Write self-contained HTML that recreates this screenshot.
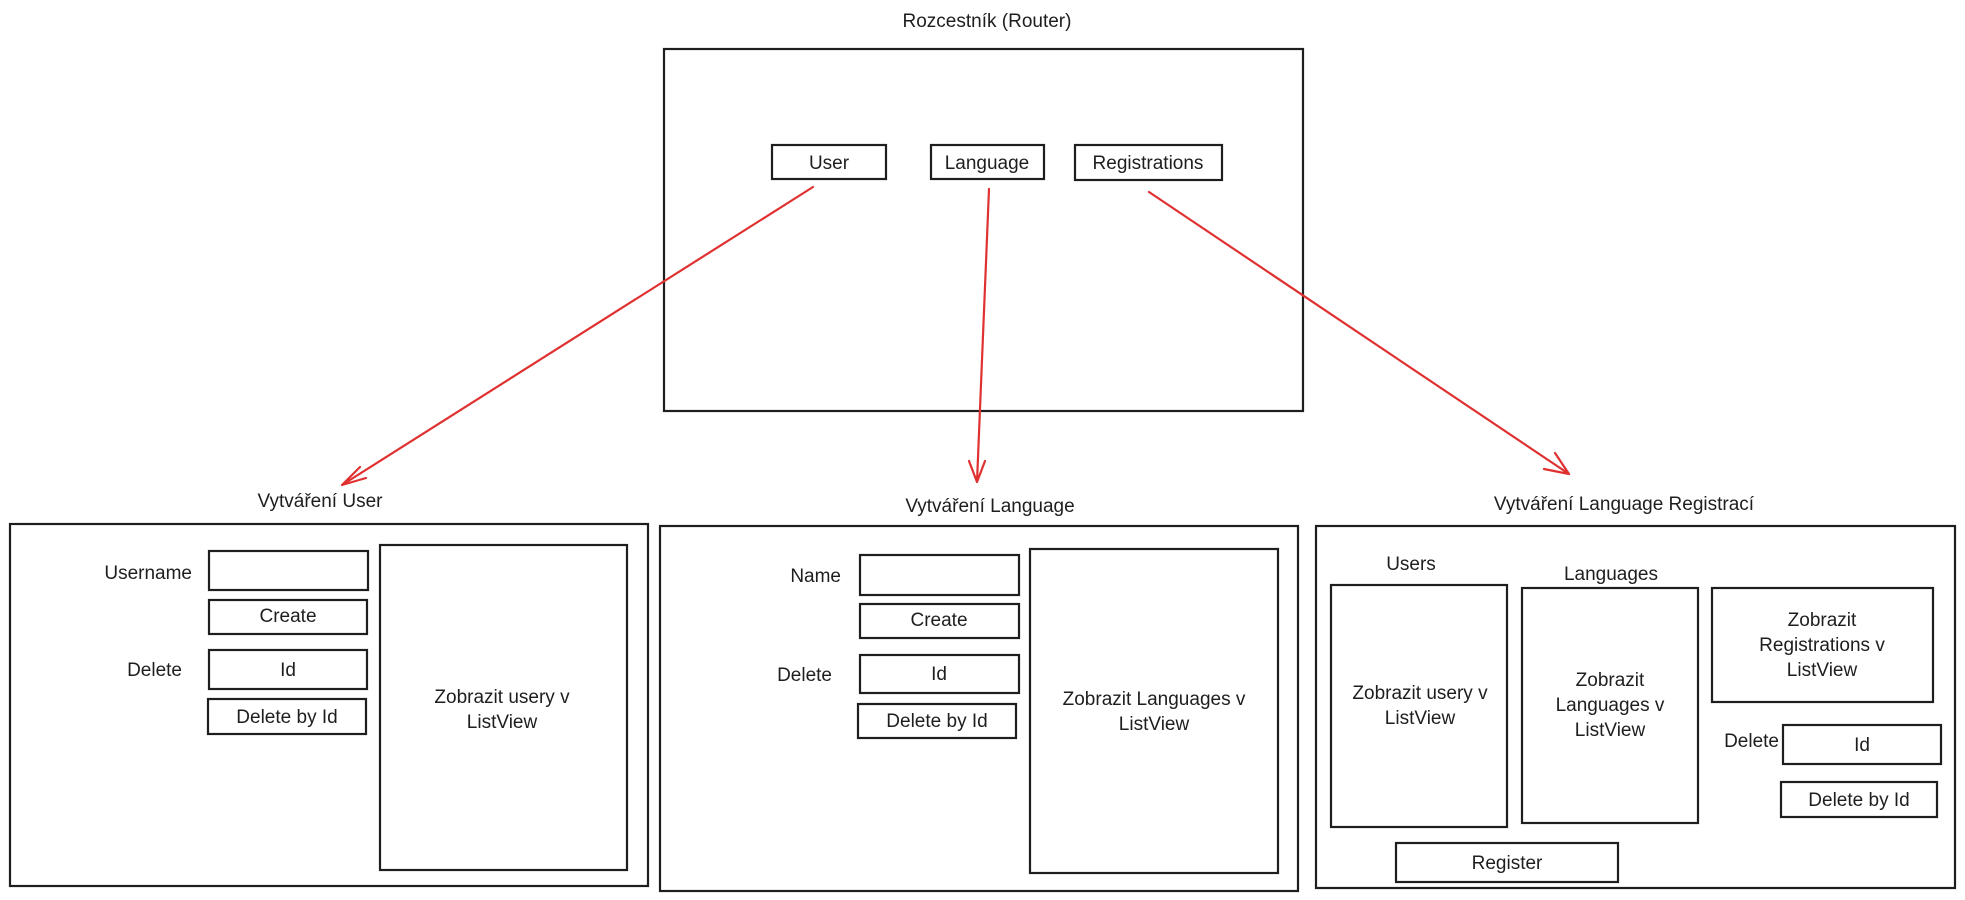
<!DOCTYPE html>
<html><head><meta charset="utf-8"><style>
html,body{margin:0;padding:0;background:#fff;width:1965px;height:900px;overflow:hidden}
svg text{font-family:"Liberation Sans",sans-serif;font-size:19px;fill:#1e1e1e}
</style></head><body>
<svg width="1965" height="900" viewBox="0 0 1965 900" xmlns="http://www.w3.org/2000/svg">
<defs><marker id="a" markerWidth="10" markerHeight="10" refX="9" refY="5" orient="auto" markerUnits="userSpaceOnUse"></marker></defs>
<g fill="none" stroke="#1e1e1e" stroke-width="2.2">
<rect x="664" y="49" width="639" height="362"/>
<rect x="772" y="145" width="114" height="34"/>
<rect x="931" y="145" width="113" height="34"/>
<rect x="1075" y="145" width="147" height="35"/>
<rect x="10" y="524" width="638" height="362"/>
<rect x="209" y="551" width="159" height="39"/>
<rect x="209" y="600" width="158" height="34"/>
<rect x="209" y="650" width="158" height="39"/>
<rect x="208" y="699" width="158" height="35"/>
<rect x="380" y="545" width="247" height="325"/>
<rect x="660" y="526" width="638" height="365"/>
<rect x="860" y="555" width="159" height="40"/>
<rect x="860" y="604" width="159" height="34"/>
<rect x="860" y="655" width="159" height="38"/>
<rect x="858" y="704" width="158" height="34"/>
<rect x="1030" y="549" width="248" height="324"/>
<rect x="1316" y="526" width="639" height="362"/>
<rect x="1331" y="585" width="176" height="242"/>
<rect x="1522" y="588" width="176" height="235"/>
<rect x="1712" y="588" width="221" height="114"/>
<rect x="1783" y="725" width="158" height="39"/>
<rect x="1781" y="782" width="156" height="35"/>
<rect x="1396" y="843" width="222" height="39"/>
</g>
<g fill="none" stroke="#e03131" stroke-width="2.2" stroke-linecap="round">
<path d="M813 187 L342 485 M342 485 L360 467 M342 485 L366 478"/>
<path d="M989 189 L977 482 M977 482 L969 461 M977 482 L985 461"/>
<path d="M1149 192 L1569 474 M1569 474 L1544 469 M1569 474 L1555 453"/>
</g>
<g text-anchor="middle">
<text x="987" y="27">Rozcestník (Router)</text>
<text x="829" y="169">User</text>
<text x="987" y="169">Language</text>
<text x="1148" y="169">Registrations</text>
<text x="320" y="507">Vytváření  User</text>
<text x="288" y="622">Create</text>
<text x="288" y="676">Id</text>
<text x="287" y="723">Delete by Id</text>
<text x="502" y="703">Zobrazit usery v</text>
<text x="502" y="728">ListView</text>
<text x="990" y="512">Vytváření  Language</text>
<text x="939" y="626">Create</text>
<text x="939" y="680">Id</text>
<text x="937" y="727">Delete by Id</text>
<text x="1154" y="705">Zobrazit Languages v</text>
<text x="1154" y="730">ListView</text>
<text x="1624" y="510">Vytváření  Language Registrací</text>
<text x="1411" y="570">Users</text>
<text x="1611" y="580">Languages</text>
<text x="1420" y="699">Zobrazit usery v</text>
<text x="1420" y="724">ListView</text>
<text x="1610" y="686">Zobrazit</text>
<text x="1610" y="711">Languages v</text>
<text x="1610" y="736">ListView</text>
<text x="1822" y="626">Zobrazit</text>
<text x="1822" y="651">Registrations v</text>
<text x="1822" y="676">ListView</text>
<text x="1862" y="751">Id</text>
<text x="1859" y="806">Delete by Id</text>
<text x="1507" y="869">Register</text>
</g>
<g text-anchor="end">
<text x="192" y="579">Username</text>
<text x="182" y="676">Delete</text>
<text x="841" y="582">Name</text>
<text x="832" y="681">Delete</text>
<text x="1779" y="747">Delete</text>
</g>
</svg>
</body></html>
